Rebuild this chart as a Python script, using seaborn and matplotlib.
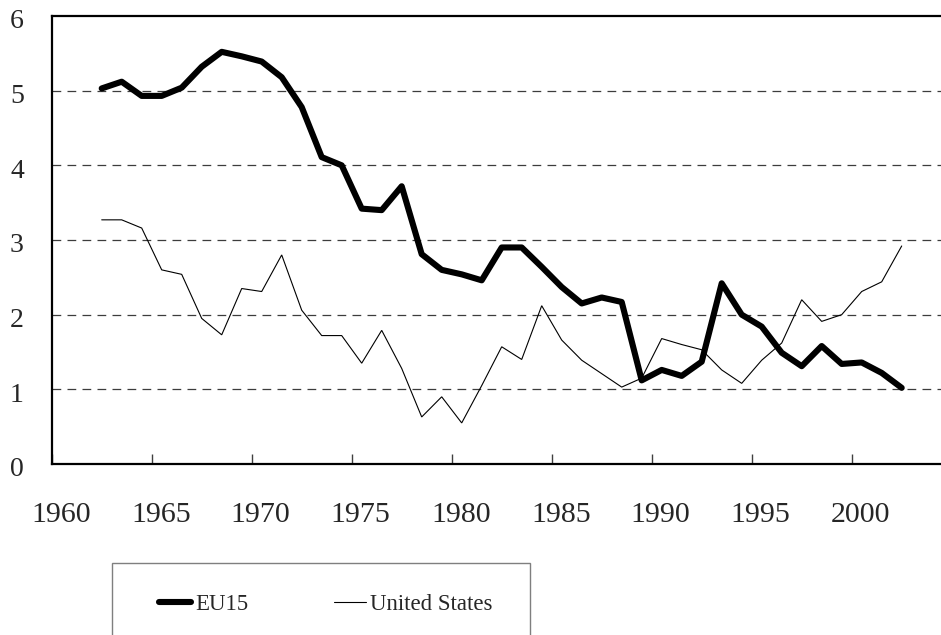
import numpy as np
import pandas as pd
import matplotlib
matplotlib.use("Agg")
import matplotlib.pyplot as plt
from matplotlib.lines import Line2D
from matplotlib.patches import Rectangle
from matplotlib.transforms import ScaledTranslation
import seaborn as sns

years = list(range(1962, 2003))
eu15 = [5.03, 5.12, 4.93, 4.93, 5.04, 5.32, 5.52, 5.46, 5.39, 5.18,
        4.78, 4.11, 4.00, 3.42, 3.40, 3.72, 2.81, 2.60, 2.54, 2.46,
        2.90, 2.90, 2.64, 2.37, 2.15, 2.23, 2.17, 1.12, 1.26, 1.18,
        1.37, 2.42, 2.00, 1.84, 1.49, 1.31, 1.58, 1.34, 1.36, 1.22,
        1.02]
united_states = [3.27, 3.27, 3.16, 2.60, 2.54, 1.95, 1.73, 2.35, 2.31, 2.80,
                 2.06, 1.72, 1.72, 1.35, 1.79, 1.28, 0.63, 0.90, 0.55, 1.05,
                 1.57, 1.40, 2.12, 1.66, 1.39, 1.21, 1.03, 1.15, 1.68, 1.60,
                 1.53, 1.26, 1.08, 1.39, 1.62, 2.20, 1.91, 2.00, 2.31, 2.44,
                 2.92]
x_ticks = list(range(1960, 2005, 5))
y_ticks = [0, 1, 2, 3, 4, 5, 6]
series_names = ["EU15", "United States"]

df = pd.DataFrame({
    "year": years * 2,
    "value": eu15 + united_states,
    "series": [series_names[0]] * len(years) + [series_names[1]] * len(years),
})
# values are annual, drawn at mid-year
df["xpos"] = df["year"] + 0.5

sns.set_style("white")
plt.rcParams["font.family"] = ["Liberation Serif", "DejaVu Serif"]

W, H, DPI = 941, 635, 100
fig = plt.figure(figsize=(W / DPI, H / DPI), dpi=DPI)
left_px, top_px, bottom_px = 51.7, 16, 464
ax = fig.add_axes([left_px / W, (H - bottom_px) / H, 1 - left_px / W, (bottom_px - top_px) / H])

widths = {"EU15": 4.4, "United States": 0.8}
for name in series_names:
    sns.lineplot(data=df[df["series"] == name], x="xpos", y="value", ax=ax,
                 color="black", linewidth=widths[name], legend=False,
                 solid_joinstyle="miter" if name != "EU15" else "round")

ax.set_xlim(1960, 1960 + (W - left_px) / 20.0)
ax.set_ylim(0, 6)
ax.set_xticks(x_ticks)
ax.set_xticklabels([str(t) for t in x_ticks])
ax.set_yticks(y_ticks)
ax.set_yticklabels([str(t) for t in y_ticks])
ax.set_xlabel("")
ax.set_ylabel("")

for y in y_ticks[1:-1]:
    ax.axhline(y, color="#3c3c3c", linewidth=0.9, linestyle=(0, (7, 5)), zorder=0)

for side in ["left", "bottom", "top"]:
    ax.spines[side].set_visible(True)
    ax.spines[side].set_color("black")
    ax.spines[side].set_linewidth(1.6)
ax.spines["right"].set_visible(False)

ax.tick_params(axis="x", direction="in", length=7, width=1.0, color="#404040",
               labelsize=21.5, pad=27, bottom=True)
ax.tick_params(axis="y", length=0, labelsize=20, pad=20)

for lab in ax.get_xticklabels():
    lab.set_transform(lab.get_transform() + ScaledTranslation(9 / DPI, 0, fig.dpi_scale_trans))
for lab in ax.get_yticklabels():
    lab.set_transform(lab.get_transform() + ScaledTranslation(0, -3 / DPI, fig.dpi_scale_trans))

handles = [Line2D([0], [0], color="black", linewidth=4.4, solid_capstyle="round"),
           Line2D([0], [0], color="black", linewidth=0.8)]
fig.legend(handles, series_names, loc="center left",
           bbox_to_anchor=(159 / W, (H - 604) / H), bbox_transform=fig.transFigure,
           ncol=2, frameon=False, fontsize=16.5, handlelength=1.4, handletextpad=0.2,
           columnspacing=3.7, borderpad=0, borderaxespad=0)
fig.patches.append(Rectangle((111.7 / W, -0.05), (530 - 111.7) / W, (H - 563.3) / H + 0.05,
                             transform=fig.transFigure, fill=False,
                             edgecolor="#7f7f7f", linewidth=1.0))

fig.savefig("out.png", dpi=DPI)
